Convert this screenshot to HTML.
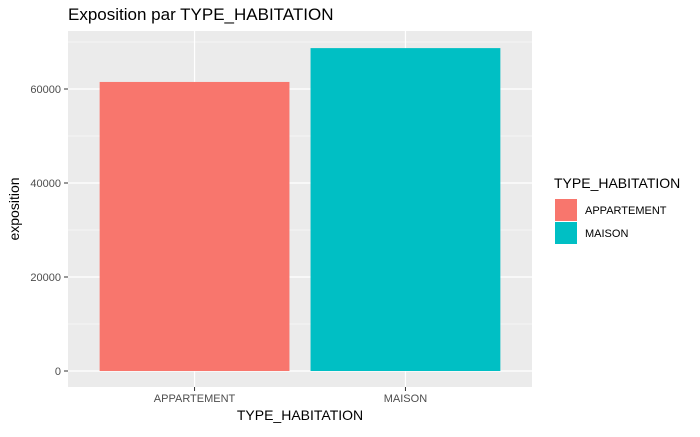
<!DOCTYPE html>
<html><head><meta charset="utf-8"><style>
body{margin:0;background:#fff;font-family:"Liberation Sans",sans-serif}
</style></head><body>
<svg width="700" height="432" xmlns="http://www.w3.org/2000/svg">
<text x="68" y="20" font-size="17" fill="#000">Exposition par TYPE_HABITATION</text>
<rect x="68" y="31" width="464" height="356" fill="#ebebeb"/>
<g id="grid"></g>
<g id="bars"></g>
<g id="axes"></g>
<text x="300" y="420" font-size="14" text-anchor="middle">TYPE_HABITATION</text>
<text transform="translate(19,209) rotate(-90)" font-size="14" text-anchor="middle">exposition</text>
<g>
<text x="554" y="188" font-size="14">TYPE_HABITATION</text>
<g id="legend"></g>
</g>
</svg>
<script>
const categories=["APPARTEMENT","MAISON"];
const values=[61500,68700];
const colors=["#F8766D","#00BFC4"];
const yTicks=[0,20000,40000,60000];
const NS="http://www.w3.org/2000/svg";
function y(v){return 371-v*94/20000;}
function x(i){return 68+(i+0.6)*464/2.2;}
const bw=0.9*464/2.2;
function mk(t,a,p){const e=document.createElementNS(NS,t);for(const k in a)e.setAttribute(k,a[k]);p.appendChild(e);return e;}
const g=document.getElementById('grid'),b=document.getElementById('bars'),ax=document.getElementById('axes'),lg=document.getElementById('legend');
for(let k=0;k<yTicks.length-1;k++){const m=(yTicks[k]+yTicks[k+1])/2;const l=mk('line',{x1:68,x2:532,y1:y(m),y2:y(m),stroke:'#fff','stroke-width':0.6},g);}
{const m=yTicks[yTicks.length-1]+10000;if(y(m)>31){const l=mk('line',{x1:68,x2:532,y1:y(m),y2:y(m),stroke:'#fff','stroke-width':0.6},g);}}
yTicks.forEach(t=>{const l=mk('line',{x1:68,x2:532,y1:y(t),y2:y(t),stroke:'#fff','stroke-width':1.2},g);
const tk=mk('line',{x1:64,x2:68,y1:y(t),y2:y(t),stroke:'#333'},ax);
const tx=mk('text',{x:61,y:y(t)+4,'font-size':11,fill:'#4d4d4d','text-anchor':'end'},ax);tx.textContent=t;});
categories.forEach((c,i)=>{const l=mk('line',{x1:x(i),x2:x(i),y1:31,y2:387,stroke:'#fff','stroke-width':1.2},g);
const r=mk('rect',{x:x(i)-bw/2,y:y(values[i]),width:bw,height:y(0)-y(values[i]),fill:colors[i]},b);
const tk=mk('line',{x1:x(i),x2:x(i),y1:387,y2:391,stroke:'#333'},ax);
const tx=mk('text',{x:x(i),y:402,'font-size':11,fill:'#4d4d4d','text-anchor':'middle'},ax);tx.textContent=c;
const k=mk('rect',{x:555,y:199+i*23,width:22,height:22,fill:colors[i]},lg);
const lt=mk('text',{x:585,y:214+i*23,'font-size':11,fill:'#000'},lg);lt.textContent=c;});
</script>
</body></html>
